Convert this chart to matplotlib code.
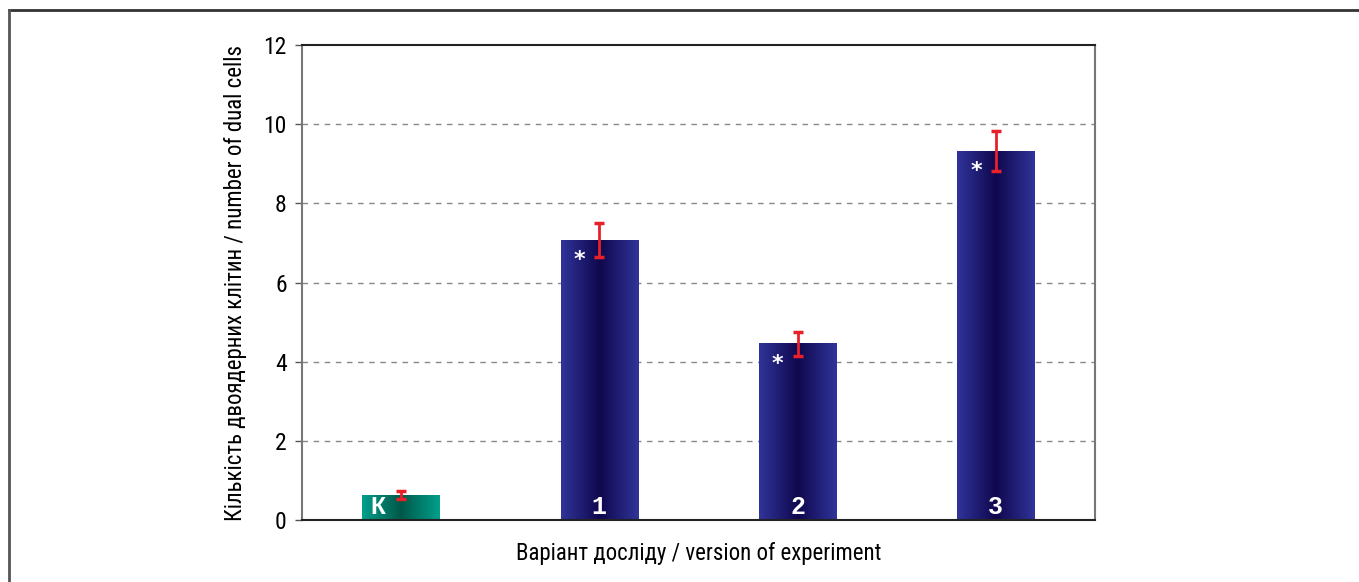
import numpy as np
import matplotlib.pyplot as plt
from matplotlib import font_manager
from matplotlib.colors import LinearSegmentedColormap
from matplotlib.lines import Line2D

# pick a narrow sans if one is installed
_names = {f.name for f in font_manager.fontManager.ttflist}
_narrow = [n for n in ["Liberation Sans Narrow", "DejaVu Sans Condensed", "Roboto Condensed",
                       "Open Sans Condensed"] if n in _names]
if _narrow:
    plt.rcParams["font.family"] = [_narrow[0], "DejaVu Sans"]
    base = 16.5
else:
    plt.rcParams["font.family"] = ["Liberation Sans", "DejaVu Sans"]
    base = 14

categories = ["К", "1", "2", "3"]
values = [0.63, 7.07, 4.45, 9.32]
errors = [0.1, 0.43, 0.3, 0.5]
stars = [False, True, True, True]
y_ticks = [0, 2, 4, 6, 8, 10, 12]

fig = plt.figure(figsize=(13.59, 5.82), dpi=100)
ax = fig.add_axes([0.2222, 0.1065, 0.5835, 0.8162])

blue_cmap = LinearSegmentedColormap.from_list("b", ["#30349a", "#10084e", "#30349a"])
teal_cmap = LinearSegmentedColormap.from_list("t", ["#00a08c", "#005848", "#00a08c"])
grad = np.linspace(0, 1, 256).reshape(1, -1)

width = 0.39
x = np.arange(len(categories))
for i, (xi, v) in enumerate(zip(x, values)):
    cmap = teal_cmap if i == 0 else blue_cmap
    ax.imshow(grad, cmap=cmap, aspect="auto",
              extent=[xi - width / 2, xi + width / 2, 0, v], zorder=2)
    ax.errorbar(xi, v, yerr=errors[i], fmt="none", ecolor="#e8202a",
                elinewidth=2, capsize=3.5, capthick=2.5, zorder=3)
    lx = xi - width / 2 + 0.08 if i == 0 else xi
    ax.text(lx, 0.33, categories[i], color="white", fontsize=18,
            fontweight="bold", family=["Liberation Mono", "DejaVu Sans Mono"],
            ha="center", va="center", zorder=4)
    if stars[i]:
        ax.text(xi - 0.1, v - 0.5, "*", color="white", fontsize=16,
                family="DejaVu Sans", fontweight="bold",
                ha="center", va="center", zorder=4)

ax.set_xlim(-0.5, 3.5)
ax.set_ylim(0, 12)
ax.set_yticks(y_ticks)
ax.set_yticklabels([str(t) for t in y_ticks], fontsize=base + 0.5)
ax.set_xticks([])
for t in y_ticks[1:-1]:
    ax.axhline(t, color="#888888", lw=1, ls=(0, (4, 4)), zorder=1)

ax.spines["left"].set_color("#777777")
ax.spines["right"].set_color("#777777")
ax.spines["top"].set_color("#222222")
ax.spines["bottom"].set_color("#222222")
for s in ax.spines.values():
    s.set_linewidth(1.5)
ax.tick_params(axis="y", length=5, width=1, color="#555555", pad=6)

ax.set_ylabel("Кількість двоядерних клітин / number of dual cells", fontsize=base, labelpad=12)
ax.set_xlabel("Варіант досліду / version of experiment", fontsize=base, labelpad=16)

# outer frame
fig.add_artist(Line2D([9 / 1359, 1], [1 - 10 / 582, 1 - 10 / 582], color="#333333", lw=2))
fig.add_artist(Line2D([9 / 1359, 9 / 1359], [0, 1 - 10 / 582], color="#555555", lw=2))

fig.savefig("out.png", dpi=100)
